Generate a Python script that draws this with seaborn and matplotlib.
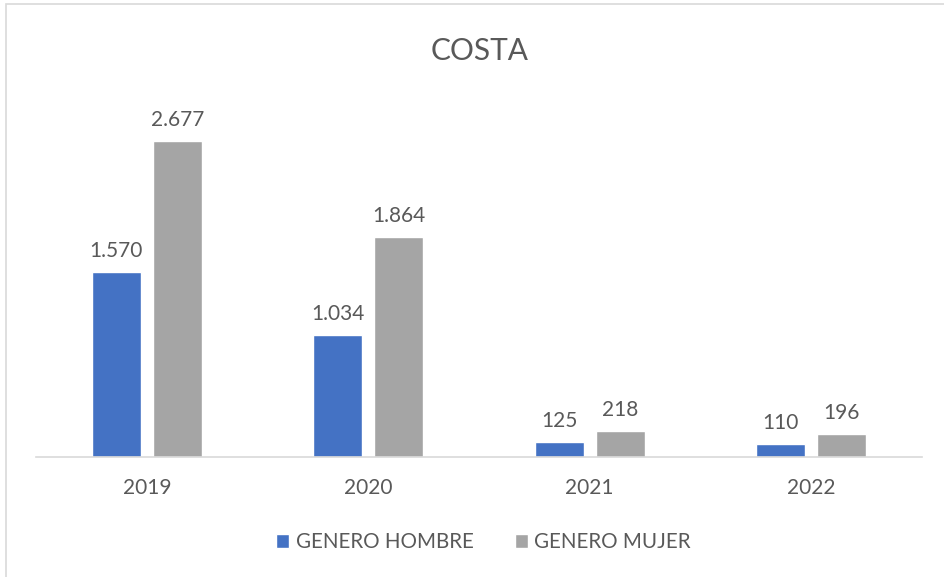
import pandas as pd
import matplotlib.pyplot as plt
import seaborn as sns
from matplotlib.patches import Patch, Rectangle

sns.set_theme(style="white")
plt.rcParams["font.family"] = ["Lato", "DejaVu Sans"]

# Datos
anios = ["2019", "2020", "2021", "2022"]
hombres = [1570, 1034, 125, 110]
mujeres = [2677, 1864, 218, 196]
series = ["GENERO HOMBRE", "GENERO MUJER"]
colores = ["#4472C4", "#A5A5A5"]
texto = "#595959"

df = pd.DataFrame({
    "anio": anios * 2,
    "valor": hombres + mujeres,
    "serie": [series[0]] * 4 + [series[1]] * 4,
})

fig = plt.figure(figsize=(9.44, 5.77), dpi=100)
ax = fig.add_axes([36 / 944, 120 / 577, 886 / 944, 354 / 577])

sns.barplot(data=df, x="anio", y="valor", hue="serie", palette=colores,
            width=0.55, gap=0.2, ax=ax, legend=False, saturation=1)

ax.set_ylim(0, 3000)
ax.set_xlim(-0.5, 3.5)
ax.set_xlabel("")
ax.set_ylabel("")
ax.set_yticks([])
for s in ["top", "right", "left"]:
    ax.spines[s].set_visible(False)
ax.spines["bottom"].set_color("#D9D9D9")
ax.spines["bottom"].set_linewidth(1.2)
ax.tick_params(axis="x", length=0, labelsize=15, labelcolor=texto, pad=15)

for cont in ax.containers:
    ax.bar_label(cont, labels=[f"{int(v):,}".replace(",", ".") for v in cont.datavalues],
                 padding=8, fontsize=15, color=texto)

fig.text(0.508, 0.912, "COSTA", ha="center", va="center", fontsize=21.5, color=texto)

handles = [Patch(facecolor=c, label=l) for c, l in zip(colores, series)]
fig.legend(handles=handles, loc="center", bbox_to_anchor=(0.512, 0.06), ncol=2,
           frameon=False, fontsize=14.8, labelcolor=texto, handlelength=0.65,
           handleheight=0.65, handletextpad=0.3, columnspacing=2.0)

# Borde del grafico
fig.patches.append(Rectangle((6 / 944, -0.05), 1.2, 1.05 - 4 / 577, transform=fig.transFigure,
                             fill=False, edgecolor="#D9D9D9", linewidth=1.2))

fig.savefig("out.png", dpi=100)
